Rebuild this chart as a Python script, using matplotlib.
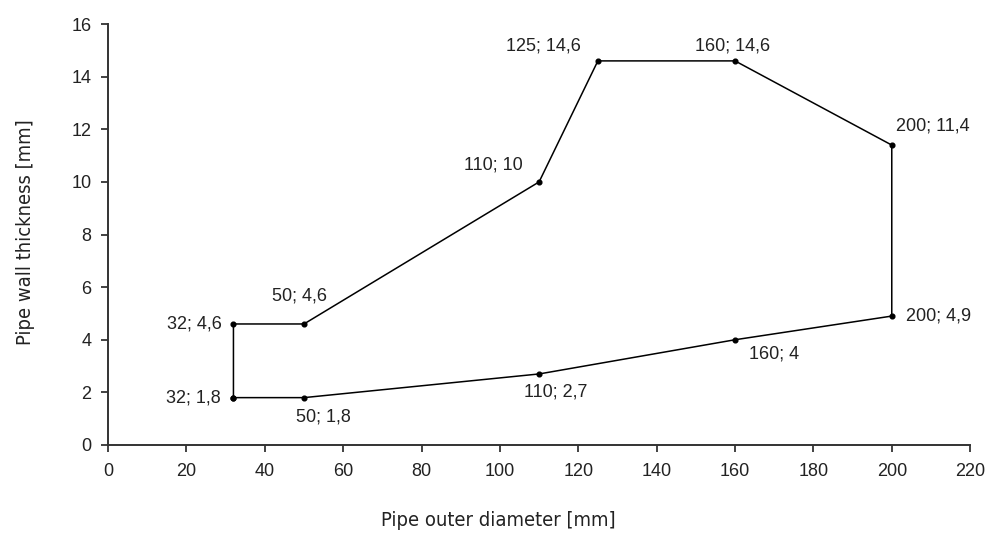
import matplotlib.pyplot as plt

# data: outline of the pipe range, (diameter; wall thickness)
diam = [32, 50, 110, 160, 200, 200, 160, 125, 110, 50, 32, 32]
wall = [1.8, 1.8, 2.7, 4.0, 4.9, 11.4, 14.6, 14.6, 10.0, 4.6, 4.6, 1.8]
labels = ["32; 1,8", "50; 1,8", "110; 2,7", "160; 4", "200; 4,9", "200; 11,4",
          "160; 14,6", "125; 14,6", "110; 10", "50; 4,6", "32; 4,6"]
x_ticks = list(range(0, 221, 20))
y_ticks = list(range(0, 17, 2))

# label offsets in points and alignment
offs = [(-9, 0, "right"), (14, -14, "center"), (12, -13, "center"),
        (10, -10, "left"), (10, 0, "left"), (3, 14, "left"),
        (-2, 11, "center"), (-12, 11, "right"), (-12, 12, "right"),
        (-3, 20, "center"), (-8, 0, "right")]

plt.rcParams['font.family'] = ['Liberation Sans', 'DejaVu Sans']

fig = plt.figure(figsize=(9.94, 5.47), dpi=100)
ax = fig.add_axes([0.1087, 0.1865, 0.8673, 0.7695])

ax.plot(diam, wall, color="black", lw=1.1, marker="o", ms=3.4)

for i, lab in enumerate(labels):
    dx, dy, ha = offs[i]
    ax.annotate(lab, (diam[i], wall[i]), xytext=(dx, dy), textcoords="offset points",
                ha=ha, va="center", fontsize=13, color="#222222")

ax.set_xlim(0, 220)
ax.set_ylim(0, 16)
ax.set_xticks(x_ticks)
ax.set_yticks(y_ticks)
ax.tick_params(direction="out", length=5, width=1.2, labelsize=13, colors="#222222")
ax.tick_params(axis="x", pad=8)
ax.tick_params(axis="y", pad=7)
for s in ["top", "right"]:
    ax.spines[s].set_visible(False)
for s in ["left", "bottom"]:
    ax.spines[s].set_color("#333333")
    ax.spines[s].set_linewidth(1.4)

ax.set_xlabel("Pipe outer diameter [mm]", family="DejaVu Sans", fontstretch="condensed",
              fontweight="light", fontsize=14.5, color="#222222")
ax.set_ylabel("Pipe wall thickness [mm]", family="DejaVu Sans", fontstretch="condensed",
              fontweight="light", fontsize=14.5, color="#222222")
ax.xaxis.set_label_coords(0.4525, -0.158)
ax.yaxis.set_label_coords(-0.085, 0.505)

fig.savefig("out.png", dpi=100)
